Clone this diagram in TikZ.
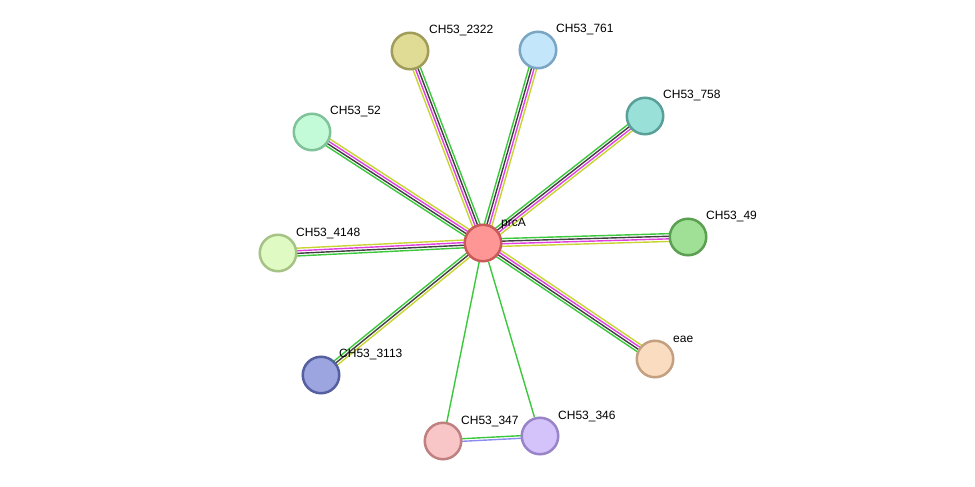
\documentclass[tikz,border=0pt]{standalone}
\usepackage{fontspec}
\setmainfont{Liberation Sans}
\usetikzlibrary{calc,backgrounds}
\definecolor{eg}{HTML}{3CC83C}
\definecolor{ek}{HTML}{404040}
\definecolor{em}{HTML}{E040E0}
\definecolor{ey}{HTML}{C8D432}
\definecolor{eb}{HTML}{8C8CF0}
\tikzset{
  prot/.style={circle, minimum size=36.5pt, inner sep=0pt, line width=2.5pt},
  lbl/.style={anchor=west, inner sep=0pt, font=\fontsize{12}{14}\selectfont},
  elin/.style={line width=1.4pt},
}
\newcommand\quadedge[3]{%
  \foreach \o/\c in {3.9/eg,1.3/ek,-1.3/em,-3.9/ey}{%
    \pgfmathsetmacro\dd{#3*\o}%
    \draw[elin,\c] ($(#1.center)!\dd pt!90:(#2.center)$) -- ($(#2.center)!\dd pt!-90:(#1.center)$);
  }}
\newcommand\triedge[3]{%
  \foreach \o/\c in {2.6/eg,0/ek,-2.6/ey}{%
    \pgfmathsetmacro\dd{#3*\o}%
    \draw[elin,\c] ($(#1.center)!\dd pt!90:(#2.center)$) -- ($(#2.center)!\dd pt!-90:(#1.center)$);
  }}
\begin{document}
\begin{tikzpicture}[x=1pt,y=-1pt]
\useasboundingbox (0,0) rectangle (975,487);
\node[prot, fill={rgb,255:red,255;green,150;blue,150}, draw={rgb,255:red,200;green,90;blue,90}] (prcA) at (483,243) {};
\node[prot, fill={rgb,255:red,224;green,220;blue,150}, draw={rgb,255:red,160;green,156;blue,90}] (n2322) at (410,51) {};
\node[prot, fill={rgb,255:red,195;green,230;blue,250}, draw={rgb,255:red,122;green,165;blue,195}] (n761) at (538,50) {};
\node[prot, fill={rgb,255:red,152;green,224;blue,216}, draw={rgb,255:red,90;green,160;blue,152}] (n758) at (645,116) {};
\node[prot, fill={rgb,255:red,195;green,250;blue,216}, draw={rgb,255:red,128;green,195;blue,154}] (n52) at (312,132) {};
\node[prot, fill={rgb,255:red,224;green,250;blue,195}, draw={rgb,255:red,165;green,195;blue,132}] (n4148) at (278,253) {};
\node[prot, fill={rgb,255:red,160;green,224;blue,150}, draw={rgb,255:red,90;green,160;blue,80}] (n49) at (688,237) {};
\node[prot, fill={rgb,255:red,156;green,165;blue,224}, draw={rgb,255:red,85;green,96;blue,160}] (n3113) at (321,375) {};
\node[prot, fill={rgb,255:red,250;green,220;blue,192}, draw={rgb,255:red,195;green,160;blue,128}] (eae) at (655,359) {};
\node[prot, fill={rgb,255:red,248;green,198;blue,198}, draw={rgb,255:red,192;green,128;blue,128}] (n347) at (443,441) {};
\node[prot, fill={rgb,255:red,212;green,195;blue,250}, draw={rgb,255:red,154;green,132;blue,200}] (n346) at (540,436) {};
\begin{scope}[on background layer]
\quadedge{prcA}{n2322}{-1}
\quadedge{prcA}{n761}{1}
\quadedge{prcA}{n758}{1}
\quadedge{prcA}{n52}{1}
\quadedge{prcA}{n4148}{1}
\quadedge{prcA}{n49}{1}
\quadedge{prcA}{eae}{-1}
\triedge{prcA}{n3113}{-1}
\draw[elin,eg] (prcA) -- (n347);
\draw[elin,eg] (prcA) -- (n346);
\draw[elin,eg] ($(n347.center)!1.3pt!90:(n346.center)$) -- ($(n346.center)!1.3pt!-90:(n347.center)$);
\draw[elin,eb] ($(n347.center)!-1.3pt!90:(n346.center)$) -- ($(n346.center)!-1.3pt!-90:(n347.center)$);
\end{scope}
\node[lbl] (tprcA) at (501,223.5) {prcA};
\node[lbl] (t2322) at (429,30.5) {CH53\_2322};
\node[lbl] (t761) at (556,29.5) {CH53\_761};
\node[lbl] (t758) at (663,95.5) {CH53\_758};
\node[lbl] (t52) at (330,111.5) {CH53\_52};
\node[lbl] (t4148) at (296,233.5) {CH53\_4148};
\node[lbl] (t49) at (706,216.5) {CH53\_49};
\node[lbl] (t3113) at (339,354.5) {CH53\_3113};
\node[lbl] (teae) at (673,339.5) {eae};
\node[lbl] (t347) at (461,421.5) {CH53\_347};
\node[lbl] (t346) at (558,416.5) {CH53\_346};
\end{tikzpicture}
\end{document}
